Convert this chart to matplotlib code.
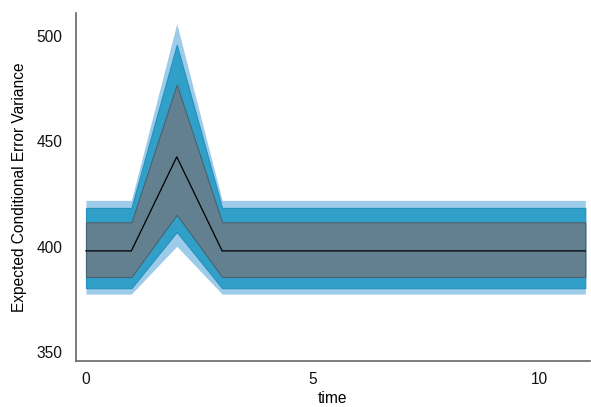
import numpy as np
import matplotlib
matplotlib.use("Agg")
import matplotlib.pyplot as plt

plt.rcParams['font.family'] = ['Liberation Sans', 'DejaVu Sans']

# time steps and the expected conditional error variance
time = [0, 1, 2, 3, 4, 5, 6, 7, 8, 9, 10, 11]
mean = [398, 398, 442.7, 398, 398, 398, 398, 398, 398, 398, 398, 398]

# bands (lower, upper), from inner to outer
inner_lo = [385.6, 385.6, 415.2, 385.6, 385.6, 385.6, 385.6, 385.6, 385.6, 385.6, 385.6, 385.6]
inner_hi = [411.6, 411.6, 477.0, 411.6, 411.6, 411.6, 411.6, 411.6, 411.6, 411.6, 411.6, 411.6]
mid_lo = [380.3, 380.3, 407.0, 380.3, 380.3, 380.3, 380.3, 380.3, 380.3, 380.3, 380.3, 380.3]
mid_hi = [418.4, 418.4, 495.9, 418.4, 418.4, 418.4, 418.4, 418.4, 418.4, 418.4, 418.4, 418.4]
outer_lo = [377.5, 377.5, 400.2, 377.5, 377.5, 377.5, 377.5, 377.5, 377.5, 377.5, 377.5, 377.5]
outer_hi = [422.0, 422.0, 506.0, 422.0, 422.0, 422.0, 422.0, 422.0, 422.0, 422.0, 422.0, 422.0]

fig = plt.figure(figsize=(5.91, 4.07), dpi=100)
ax = fig.add_axes([0.1286, 0.113, 0.8694, 0.855])

ax.fill_between(time, outer_lo, outer_hi, color='#9dcbea', lw=0)
ax.fill_between(time, mid_lo, mid_hi, color='#31a0c9', edgecolor='#2590bd', lw=0.8)
ax.fill_between(time, inner_lo, inner_hi, color='#62808f', edgecolor='#4a6272', lw=0.8)
ax.plot(time, mean, color='black', lw=0.9)

ax.set_xlim(-0.22, 11.1)
ax.set_ylim(345.7, 511)
ax.set_xticks([0, 5, 10])
ax.set_yticks([350, 400, 450, 500])
ax.tick_params(length=0, labelsize=11.2, colors='#111111')
ax.tick_params(axis='y', pad=10)
ax.tick_params(axis='x', pad=8)

for s in ['top', 'right']:
    ax.spines[s].set_visible(False)
for s in ['left', 'bottom']:
    ax.spines[s].set_color('#666666')
    ax.spines[s].set_linewidth(1.2)

ax.set_xlabel('time', fontsize=11.2, labelpad=3)
ax.set_ylabel('Expected Conditional Error Variance', fontsize=11.2, labelpad=7)

fig.savefig('out.png', dpi=100)
